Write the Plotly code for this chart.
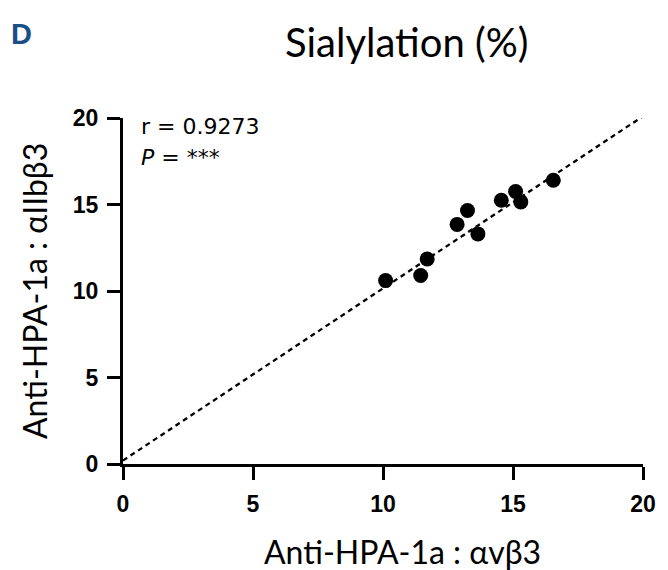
import plotly.graph_objects as go

# ── data ──────────────────────────────────────────────────────────────────────
avb3  = [10.1, 11.45, 11.7, 12.85, 13.25, 13.65, 14.55, 15.1, 15.3, 16.55]
aiib3 = [10.6, 10.9, 11.85, 13.85, 14.65, 13.3, 15.25, 15.75, 15.15, 16.4]

fit_x = [0, 20.2]
fit_y = [0.2, 20.3]

tick_vals = [0, 5, 10, 15, 20]
r_text = 'r = 0.9273'
p_text = '<i>P</i> = ***'

# page body has an 8px margin, so the figure is shrunk by that much
OFF = 8
W, H = 668 - OFF, 570 - OFF
L, R, T, B = 123 - OFF, 25, 118 - OFF, 106
PW, PH = W - L - R, H - T - B


def px(x, y):
    """page pixel position -> paper coords"""
    x, y = x - OFF, y - OFF
    return (x - L) / PW, 1 - (y - T) / PH


fig = go.Figure()
fig.add_trace(go.Scatter(
    x=fit_x, y=fit_y,
    mode='lines',
    line=dict(color='black', width=2.3, dash='5px,4px'),
    cliponaxis=False,
    showlegend=False,
))
fig.add_trace(go.Scatter(
    x=avb3, y=aiib3,
    mode='markers',
    marker=dict(size=15, color='black'),
    cliponaxis=False,
    showlegend=False,
))

axis_common = dict(
    range=[0, 20],
    tickvals=tick_vals,
    showline=True, linecolor='black', linewidth=3,
    ticks='outside', ticklen=13, tickwidth=3, tickcolor='black',
    showgrid=False, zeroline=False, automargin=False,
    tickfont=dict(family='Liberation Sans', size=23, color='black', weight='bold'),
)

title_font = dict(family='Lato', size=32, color='black')

dx, dy = px(21, 34)
tx, ty = px(406, 42)
xtx, xty = px(402, 551)
ytx, yty = px(34, 291)

fig.update_layout(
    width=W, height=H,
    margin=dict(l=L, r=R, t=T, b=B),
    plot_bgcolor='white', paper_bgcolor='white',
    xaxis=dict(**axis_common, ticklabelstandoff=4),
    yaxis=dict(**axis_common, ticklabelstandoff=4),
    annotations=[
        dict(text='<b>D</b>', x=dx, y=dy, xref='paper', yref='paper',
             xanchor='center', yanchor='middle', showarrow=False,
             font=dict(family='Liberation Sans', size=29, color='#1a4e86')),
        dict(text='Sialylation (%)', x=tx, y=ty, xref='paper', yref='paper',
             xanchor='center', yanchor='middle', showarrow=False,
             font=dict(family='Lato', size=40, color='black')),
        dict(text='Anti-HPA-1a : αvβ3', x=xtx, y=xty, xref='paper', yref='paper',
             xanchor='center', yanchor='middle', showarrow=False,
             font=title_font),
        dict(text='Anti-HPA-1a : αIIbβ3', x=ytx, y=yty, xref='paper', yref='paper',
             xanchor='center', yanchor='middle', showarrow=False, textangle=-90,
             font=title_font),
        dict(text=r_text, x=0.6, y=19.5, xref='x', yref='y',
             xanchor='left', yanchor='middle', showarrow=False,
             font=dict(family='DejaVu Sans', size=22, color='black')),
        dict(text=p_text, x=0.6, y=17.7, xref='x', yref='y',
             xanchor='left', yanchor='middle', showarrow=False,
             font=dict(family='DejaVu Sans', size=22, color='black')),
    ],
)

fig.write_html('out.html')
